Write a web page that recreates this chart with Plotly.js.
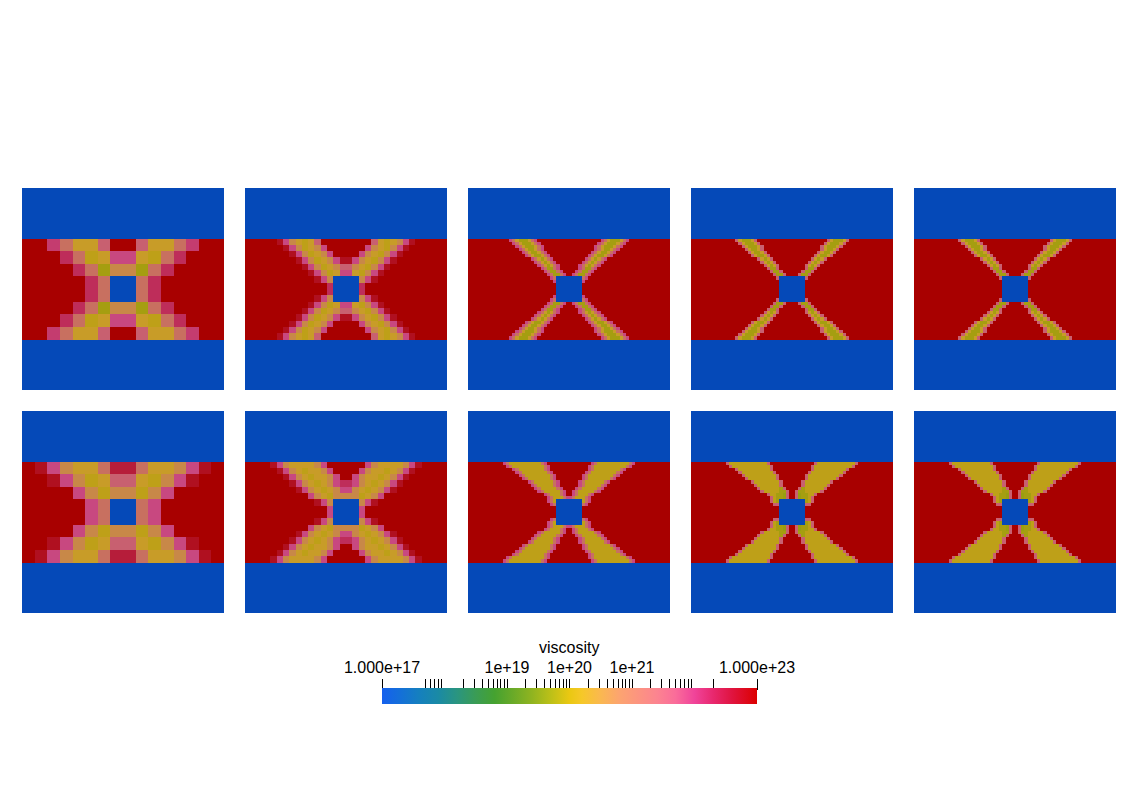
<!DOCTYPE html>
<html><head><meta charset="utf-8">
<script src="https://cdn.plot.ly/plotly-3.0.1.min.js"></script>
<style>html,body{margin:0;padding:0;background:#fff}#chart{width:1138px;height:802px}</style>
</head><body><div id="chart"></div>
<script>
// ---- value codes (log10 of viscosity) ----
const codeLetters = ['B','w','v','y','g','o','s','m','p','q','k','j','c','R'];
const codeValues  = [17, 19.7, 19.85, 20.05, 20.2, 20.7, 21.15, 21.5, 21.85, 22.05, 22.3, 22.55, 22.75, 23];

// ---- colour bar ticks ----
const majorTickValues = [1e17, 1e19, 1e20, 1e21, 1e23];
const majorTickLabels = ['1.000e+17', '1e+19', '1e+20', '1e+21', '1.000e+23'];
const minorTickValues = [5e17,6e17,7e17,8e17,9e17,
  2e18,3e18,4e18,5e18,6e18,7e18,8e18,9e18,
  2e19,3e19,4e19,5e19,6e19,7e19,8e19,9e19,
  2e20,3e20,4e20,5e20,6e20,7e20,8e20,9e20,
  2e21,3e21,4e21,5e21,6e21,7e21,8e21,9e21,
  2e22];
const colorbarTitle = 'viscosity';

// ---- panel grids (run-length rows, "N*" = row repeated N times) ----
const top1 = [
 "4*16B",
 "2R q s 2g m 2R m 2g s q 2R",
 "3R k s y g 2p g y s k 3R",
 "4R k s v 2o v s k 4R",
 "2*5R k s 2B s k 5R",
 "4R k s v 2o v s k 4R",
 "3R k s y g 2p g y s k 3R",
 "2R q s 2g m 2R m 2g s q 2R",
 "4*16B"];
const bot1 = [
 "4*16B",
 "R c p o 2g s 2j s 2g o p c R",
 "2R c p o y g 2m g y o p c 2R",
 "4R p o y 2o y o p 4R",
 "2*5R p s 2B s p 5R",
 "4R p o y 2o y o p 4R",
 "2R c p o y g 2m g y o p c 2R",
 "R c p o 2g s 2j s 2g o p c R",
 "4*16B"];
const top2 = [
 "8*32B",
 "5R c p o g y g m 8R m g y g o p c 5R",
 "6R c p o y g o p 6R p o g y o p c 6R",
 "7R c p o y g o p 4R p o g y o p c 7R",
 "8R c p o y g o p 2c p o g y o p c 8R",
 "9R c p o y g o 2m o g y o p c 9R",
 "10R c p o y g 2p g y o p c 10R",
 "11R c p o 4B o p c 11R",
 "2*13R k 4B k 13R",
 "11R c p o 4B o p c 11R",
 "10R c p o y g 2p g y o p c 10R",
 "9R c p o y g o 2m o g y o p c 9R",
 "8R c p o y g o p 2c p o g y o p c 8R",
 "7R c p o y g o p 4R p o g y o p c 7R",
 "6R c p o y g o p 6R p o g y o p c 6R",
 "5R c p o g y g m 8R m g y g o p c 5R",
 "8*32B"];
const bot2 = [
 "8*32B",
 "4R c p o 4g o p 6R p o 4g o p c 4R",
 "5R c p o g y 2g o p 4R p o 2g y g o p c 5R",
 "6R c p o g y 2g o p 2R p o 2g y g o p c 6R",
 "7R c p o g y g o p 2k p o g y g o p c 7R",
 "8R c p o g y g o 2p o g y g o p c 8R",
 "10R p o g y 4o y g o p 10R",
 "11R c p o 4B o p c 11R",
 "2*13R p 4B p 13R",
 "11R c p o 4B o p c 11R",
 "10R p o g y 4o y g o p 10R",
 "8R c p o g y g o 2p o g y g o p c 8R",
 "7R c p o g y g o p 2k p o g y g o p c 7R",
 "6R c p o g y 2g o p 2R p o 2g y g o p c 6R",
 "5R c p o g y 2g o p 4R p o 2g y g o p c 5R",
 "4R c p o 4g o p 6R p o 4g o p c 4R",
 "8*32B"];
const top3 = [
 "16*64B",
 "13R p s g 3v g s p 20R p s g 3v g s p 13R",
 "14R p s g 3v g s p 18R p s g 3v g s p 14R",
 "15R p s g 3v g s p 16R p s g 3v g s p 15R",
 "16R p s g 2v g s p 16R p s g 2v g s p 16R",
 "17R p s g 2v g s p 14R p s g 2v g s p 17R",
 "18R p s g 2v g s p 12R p s g 2v g s p 18R",
 "20R p s g v g s p 10R p s g v g s p 20R",
 "21R p s g v g s p 8R p s g v g s p 21R",
 "22R p s g v g s p 6R p s g v g s p 22R",
 "23R p s 2v s p 6R p s 2v s p 23R",
 "24R p s 2v s p 4R p s 2v s p 24R",
 "25R p s 2v s p 2R p s 2v s p 25R",
 "26R p s 8B s p 26R",
 "27R p 8B p 27R",
 "4*28R 8B 28R",
 "27R p 8B p 27R",
 "26R p s 8B s p 26R",
 "25R p s 2v s p 2R p s 2v s p 25R",
 "24R p s 2v s p 4R p s 2v s p 24R",
 "23R p s 2v s p 6R p s 2v s p 23R",
 "22R p s g v g s p 6R p s g v g s p 22R",
 "21R p s g v g s p 8R p s g v g s p 21R",
 "20R p s g v g s p 10R p s g v g s p 20R",
 "18R p s g 2v g s p 12R p s g 2v g s p 18R",
 "17R p s g 2v g s p 14R p s g 2v g s p 17R",
 "16R p s g 2v g s p 16R p s g 2v g s p 16R",
 "15R p s g 3v g s p 16R p s g 3v g s p 15R",
 "14R p s g 3v g s p 18R p s g 3v g s p 14R",
 "13R p s g 3v g s p 20R p s g 3v g s p 13R",
 "16*64B"];
const bot3 = [
 "16*64B",
 "11R p s 10y s p 14R p s 10y s p 11R",
 "12R p s 10y s p 12R p s 10y s p 12R",
 "14R p s 8y s p 12R p s 8y s p 14R",
 "15R p s 8y s p 10R p s 8y s p 15R",
 "16R p s 8y s p 8R p s 8y s p 16R",
 "17R p s 7y s p 8R p s 7y s p 17R",
 "19R p s 6y s p 6R p s 6y s p 19R",
 "20R p s 5y s p 6R p s 5y s p 20R",
 "21R p s 5y s p 4R p s 5y s p 21R",
 "22R p s 5y s p 2R p s 5y s p 22R",
 "24R p s 3y s p 2R p s 3y s p 24R",
 "25R p s 3y s 2p s 3y s p 25R",
 "25R p s y 8B y s p 25R",
 "26R p s 8B s p 26R",
 "4*28R 8B 28R",
 "26R p s 8B s p 26R",
 "25R p s y 8B y s p 25R",
 "25R p s 3y s 2p s 3y s p 25R",
 "24R p s 3y s p 2R p s 3y s p 24R",
 "22R p s 5y s p 2R p s 5y s p 22R",
 "21R p s 5y s p 4R p s 5y s p 21R",
 "20R p s 5y s p 6R p s 5y s p 20R",
 "19R p s 6y s p 6R p s 6y s p 19R",
 "17R p s 7y s p 8R p s 7y s p 17R",
 "16R p s 8y s p 8R p s 8y s p 16R",
 "15R p s 8y s p 10R p s 8y s p 15R",
 "14R p s 8y s p 12R p s 8y s p 14R",
 "12R p s 10y s p 12R p s 10y s p 12R",
 "11R p s 10y s p 14R p s 10y s p 11R",
 "16*64B"];
const top4 = [
 "16*64B",
 "14R m g 3v g m 22R m g 3v g m 14R",
 "15R m g 3v g m 20R m g 3v g m 15R",
 "16R m g 3v g m 18R m g 3v g m 16R",
 "17R m g 2v g m 18R m g 2v g m 17R",
 "18R m g 2v g m 16R m g 2v g m 18R",
 "19R m g 2v g m 14R m g 2v g m 19R",
 "21R m g v g m 12R m g v g m 21R",
 "22R m g v g m 10R m g v g m 22R",
 "23R m g v g m 8R m g v g m 23R",
 "24R m 2v m 8R m 2v m 24R",
 "25R m 2v m 6R m 2v m 25R",
 "26R m 2v m 4R m 2v m 26R",
 "27R m 8B m 27R",
 "6*28R 8B 28R",
 "27R m 8B m 27R",
 "26R m 2v m 4R m 2v m 26R",
 "25R m 2v m 6R m 2v m 25R",
 "24R m 2v m 8R m 2v m 24R",
 "23R m g v g m 8R m g v g m 23R",
 "22R m g v g m 10R m g v g m 22R",
 "21R m g v g m 12R m g v g m 21R",
 "19R m g 2v g m 14R m g 2v g m 19R",
 "18R m g 2v g m 16R m g 2v g m 18R",
 "17R m g 2v g m 18R m g 2v g m 17R",
 "16R m g 3v g m 18R m g 3v g m 16R",
 "15R m g 3v g m 20R m g 3v g m 15R",
 "14R m g 3v g m 22R m g 3v g m 14R",
 "16*64B"];
const bot4 = [
 "16*64B",
 "11R m 12y m 14R m 12y m 11R",
 "12R m 12y m 12R m 12y m 12R",
 "14R m 10y m 12R m 10y m 14R",
 "15R m 10y m 10R m 10y m 15R",
 "16R m 10y m 8R m 10y m 16R",
 "17R m 9y m 8R m 9y m 17R",
 "19R m 8y m 6R m 8y m 19R",
 "20R m 7y m 6R m 7y m 20R",
 "21R m 6y v m 4R m v 6y m 21R",
 "22R m 5y 2v m 2R m 2v 5y m 22R",
 "24R m 2y 2v w m 2R m w 2v 2y m 24R",
 "25R m y 2v w m 2R m w 2v y m 25R",
 "25R m y v 8B v y m 25R",
 "26R 2m 8B 2m 26R",
 "4*28R 8B 28R",
 "26R 2m 8B 2m 26R",
 "25R m y v 8B v y m 25R",
 "25R m y 2v w m 2R m w 2v y m 25R",
 "24R m 2y 2v w m 2R m w 2v 2y m 24R",
 "22R m 5y 2v m 2R m 2v 5y m 22R",
 "21R m 6y v m 4R m v 6y m 21R",
 "20R m 7y m 6R m 7y m 20R",
 "19R m 8y m 6R m 8y m 19R",
 "17R m 9y m 8R m 9y m 17R",
 "16R m 10y m 8R m 10y m 16R",
 "15R m 10y m 10R m 10y m 15R",
 "14R m 10y m 12R m 10y m 14R",
 "12R m 12y m 12R m 12y m 12R",
 "11R m 12y m 14R m 12y m 11R",
 "16*64B"];
const top5 = [
 "16*64B",
 "14R m g 3v g m 22R m g 3v g m 14R",
 "15R m g 3v g m 20R m g 3v g m 15R",
 "16R m g 3v g m 18R m g 3v g m 16R",
 "17R m g 2v g m 18R m g 2v g m 17R",
 "18R m g 2v g m 16R m g 2v g m 18R",
 "19R m g 2v g m 14R m g 2v g m 19R",
 "21R m g v g m 12R m g v g m 21R",
 "22R m g v g m 10R m g v g m 22R",
 "23R m g v g m 8R m g v g m 23R",
 "24R m 2v m 8R m 2v m 24R",
 "25R m 2v m 6R m 2v m 25R",
 "26R m 2v m 4R m 2v m 26R",
 "27R m 8B m 27R",
 "6*28R 8B 28R",
 "27R m 8B m 27R",
 "26R m 2v m 4R m 2v m 26R",
 "25R m 2v m 6R m 2v m 25R",
 "24R m 2v m 8R m 2v m 24R",
 "23R m g v g m 8R m g v g m 23R",
 "22R m g v g m 10R m g v g m 22R",
 "21R m g v g m 12R m g v g m 21R",
 "19R m g 2v g m 14R m g 2v g m 19R",
 "18R m g 2v g m 16R m g 2v g m 18R",
 "17R m g 2v g m 18R m g 2v g m 17R",
 "16R m g 3v g m 18R m g 3v g m 16R",
 "15R m g 3v g m 20R m g 3v g m 15R",
 "14R m g 3v g m 22R m g 3v g m 14R",
 "16*64B"];
const bot5 = [
 "16*64B",
 "11R m 12y m 14R m 12y m 11R",
 "12R m 12y m 12R m 12y m 12R",
 "14R m 10y m 12R m 10y m 14R",
 "15R m 10y m 10R m 10y m 15R",
 "16R m 10y m 8R m 10y m 16R",
 "17R m 9y m 8R m 9y m 17R",
 "19R m 8y m 6R m 8y m 19R",
 "20R m 7y m 6R m 7y m 20R",
 "21R m 6y v m 4R m v 6y m 21R",
 "22R m 5y 2v m 2R m 2v 5y m 22R",
 "24R m 2y 2v w m 2R m w 2v 2y m 24R",
 "25R m y 2v w m 2R m w 2v y m 25R",
 "25R m y v 8B v y m 25R",
 "26R 2m 8B 2m 26R",
 "4*28R 8B 28R",
 "26R 2m 8B 2m 26R",
 "25R m y v 8B v y m 25R",
 "25R m y 2v w m 2R m w 2v y m 25R",
 "24R m 2y 2v w m 2R m w 2v 2y m 24R",
 "22R m 5y 2v m 2R m 2v 5y m 22R",
 "21R m 6y v m 4R m v 6y m 21R",
 "20R m 7y m 6R m 7y m 20R",
 "19R m 8y m 6R m 8y m 19R",
 "17R m 9y m 8R m 9y m 17R",
 "16R m 10y m 8R m 10y m 16R",
 "15R m 10y m 10R m 10y m 15R",
 "14R m 10y m 12R m 10y m 14R",
 "12R m 12y m 12R m 12y m 12R",
 "11R m 12y m 14R m 12y m 11R",
 "16*64B"];

// ---- decoding ----
function decode(rows) {
  const grid = [];
  rows.forEach(s => {
    let rep = 1, body = s;
    const m = s.match(/^(\d+)\*(.*)$/);
    if (m) { rep = +m[1]; body = m[2]; }
    const row = [];
    body.trim().split(/\s+/).forEach(tok => {
      const mm = tok.match(/^(\d*)([A-Za-z])$/);
      const n = mm[1] ? +mm[1] : 1;
      const v = codeValues[codeLetters.indexOf(mm[2])];
      for (let i = 0; i < n; i++) row.push(v);
    });
    for (let k = 0; k < rep; k++) grid.push(row.slice());
  });
  return grid;
}

// ---- styles ----
const FONT = 'Liberation Sans, Arial, sans-serif';
const W = 1138, H = 802;
const panelScale = [
  [0.000, 'rgb(5,73,184)'],
  [0.150, 'rgb(14,105,125)'],
  [0.267, 'rgb(45,120,35)'],
  [0.383, 'rgb(105,138,20)'],
  [0.450, 'rgb(152,158,16)'],
  [0.475, 'rgb(165,158,16)'],
  [0.508, 'rgb(190,160,24)'],
  [0.533, 'rgb(200,156,40)'],
  [0.617, 'rgb(200,136,72)'],
  [0.692, 'rgb(200,112,96)'],
  [0.750, 'rgb(200,96,112)'],
  [0.808, 'rgb(200,72,128)'],
  [0.883, 'rgb(190,45,90)'],
  [0.958, 'rgb(176,16,32)'],
  [1.000, 'rgb(168,0,0)']];
const barScale = [
  [0.000, '#1560EE'], [0.050, '#1470D8'], [0.100, '#1580BE'], [0.150, '#1A8AA5'],
  [0.200, '#2A9580'], [0.250, '#3A9C55'], [0.300, '#45A230'], [0.350, '#6AAA28'],
  [0.400, '#90B420'], [0.450, '#BCC018'], [0.500, '#EAC812'], [0.533, '#F6C828'],
  [0.583, '#FAB850'], [0.633, '#FCA470'], [0.683, '#FC9480'], [0.733, '#FC8490'],
  [0.783, '#FA6C9A'], [0.833, '#F0449A'], [0.883, '#E8286E'], [0.933, '#E01440'],
  [1.000, '#DC0000']];

const panels = [top1, top2, top3, top4, top5, bot1, bot2, bot3, bot4, bot5];
const panelLeft = [22, 245, 468, 691, 914];
const panelTop = [188, 411];
const PW = 202, PH = 202;

const traces = [];
const layout = {
  width: W, height: H,
  margin: {l: 0, r: 0, t: 0, b: 0, pad: 0, autoexpand: false},
  paper_bgcolor: '#fff', plot_bgcolor: 'rgba(0,0,0,0)',
  showlegend: false,
  font: {family: FONT, size: 16, color: '#000'},
  coloraxis: {cmin: 17, cmax: 23, colorscale: panelScale, showscale: false},
  coloraxis2: {cmin: 17, cmax: 23, colorscale: barScale, showscale: true,
    colorbar: {orientation: 'h', x: 569.5 / W, xanchor: 'center', xref: 'paper',
      y: 1 - 704 / H, yanchor: 'bottom', yref: 'paper',
      len: 375, lenmode: 'pixels', thickness: 16, thicknessmode: 'pixels',
      outlinewidth: 0, ticks: '', showticklabels: false, xpad: 0, ypad: 0}},
  annotations: [{text: colorbarTitle, x: 569 / W, y: 1 - 647 / H, xref: 'paper', yref: 'paper',
    xanchor: 'center', yanchor: 'middle', showarrow: false, font: {family: FONT, size: 16, color: '#000'}}]
};

panels.forEach((rows, i) => {
  const k = i + 1;
  const grid = decode(rows);
  const n = grid.length, m = grid[0].length;
  const col = i % 5, row = Math.floor(i / 5);
  traces.push({type: 'heatmap', z: grid, coloraxis: 'coloraxis', zsmooth: false,
    xaxis: 'x' + k, yaxis: 'y' + k, hoverinfo: 'skip', xgap: 0, ygap: 0});
  const x0 = panelLeft[col], y0 = panelTop[row];
  layout['xaxis' + k] = {domain: [x0 / W, (x0 + PW) / W], range: [-0.5, m - 0.5],
    visible: false, anchor: 'y' + k, fixedrange: true};
  layout['yaxis' + k] = {domain: [1 - (y0 + PH) / H, 1 - y0 / H], range: [n - 0.5, -0.5],
    visible: false, anchor: 'x' + k, fixedrange: true};
});

// colour bar axis (ticks and labels above the bar)
traces.push({type: 'scatter', mode: 'markers', x: [majorTickValues[0], majorTickValues[4]], y: [0, 0],
  xaxis: 'x11', yaxis: 'y11', hoverinfo: 'skip',
  marker: {size: 1, opacity: 0, color: [17, 23], coloraxis: 'coloraxis2'}});
layout.xaxis11 = {type: 'log', range: [17, 23], domain: [382 / W, 757 / W], anchor: 'y11', side: 'top',
  showgrid: false, zeroline: false, showline: false, fixedrange: true,
  tickmode: 'array', tickvals: majorTickValues, ticktext: majorTickLabels,
  ticks: 'outside', ticklen: 11, tickwidth: 1, tickcolor: '#000',
  tickfont: {family: FONT, size: 16, color: '#000'},
  minor: {tickmode: 'array', tickvals: minorTickValues, ticks: 'outside', ticklen: 11, tickwidth: 1,
    tickcolor: '#000', showgrid: false}};
layout.yaxis11 = {domain: [1 - 700 / H, 1 - 691 / H], range: [0, 1], visible: false,
  anchor: 'x11', fixedrange: true};

Plotly.newPlot('chart', traces, layout, {staticPlot: true, displayModeBar: false});
</script>
</body></html>
